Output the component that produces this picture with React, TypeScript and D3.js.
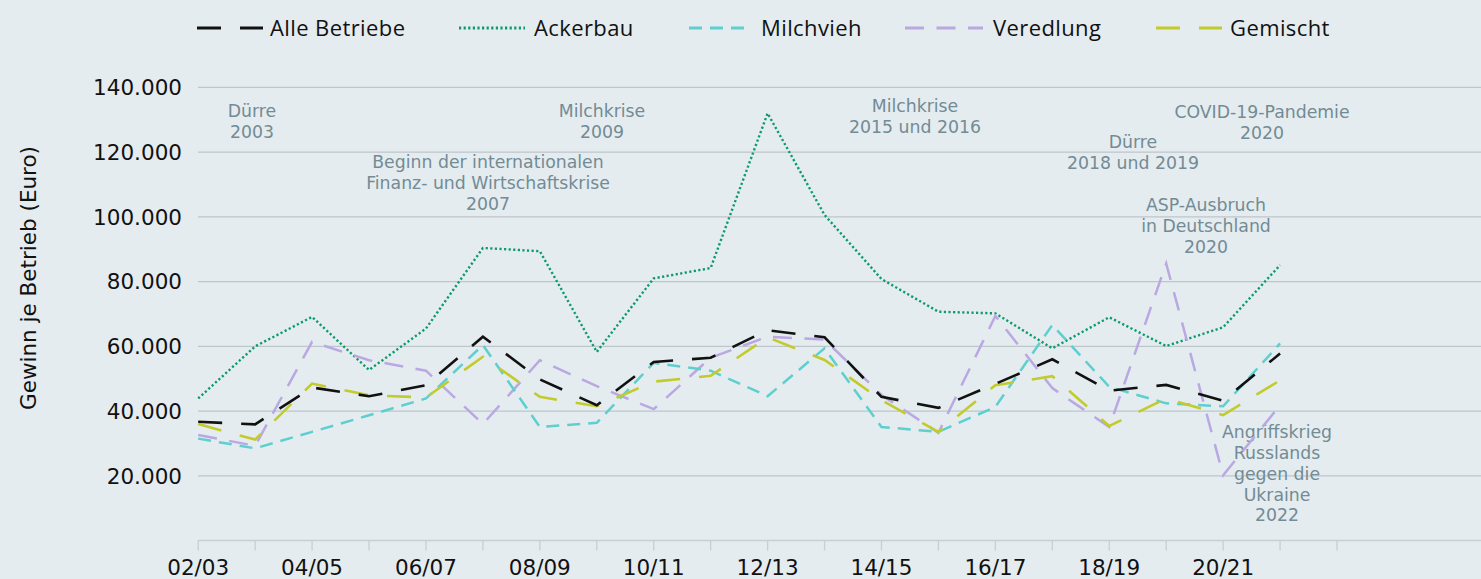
import React from "react";
import * as d3 from "d3";

// Wirtschaftsjahre (letztes Jahr ohne Daten, nur Achse)
const seasons = [
  "02/03", "03/04", "04/05", "05/06", "06/07", "07/08", "08/09", "09/10", "10/11", "11/12",
  "12/13", "13/14", "14/15", "15/16", "16/17", "17/18", "18/19", "19/20", "20/21", "21/22", "22/23",
];
const tickLabels = ["02/03", "04/05", "06/07", "08/09", "10/11", "12/13", "14/15", "16/17", "18/19", "20/21"];
const yTicks = [20000, 40000, 60000, 80000, 100000, 120000, 140000];

// Gewinn je Betrieb (Euro)
const alleBetriebe = [36700, 35900, 47300, 44600, 48000, 63000, 49800, 41800, 55200, 56500, 65000, 62800, 44400, 41000, 48400, 56000, 46300, 48100, 43200, 57800];
const ackerbau = [43900, 60000, 69100, 52700, 65500, 90400, 89400, 58300, 81000, 84200, 132000, 100600, 80800, 70700, 70200, 59400, 69000, 60100, 65900, 85100];
const milchvieh = [31500, 28500, 33600, 38700, 43900, 60400, 35100, 36400, 54900, 52500, 44600, 59400, 35100, 33600, 41300, 66600, 47500, 42400, 41500, 60900];
const veredlung = [32600, 29300, 61400, 55700, 52500, 36000, 55700, 47700, 40600, 56500, 63000, 62100, 45000, 33300, 69400, 47100, 35100, 85600, 20200, 41800];
const gemischt = [36000, 31200, 48500, 44900, 44200, 56800, 44400, 41500, 49100, 50900, 62800, 55800, 43400, 33600, 48000, 50800, 35400, 43900, 38800, 49500];

const annotations = [
  { lines: ["Dürre", "2003"], x: 252, y: 111 },
  { lines: ["Beginn der internationalen", "Finanz- und Wirtschaftskrise", "2007"], x: 488, y: 162 },
  { lines: ["Milchkrise", "2009"], x: 602, y: 111 },
  { lines: ["Milchkrise", "2015 und 2016"], x: 915, y: 106 },
  { lines: ["Dürre", "2018 und 2019"], x: 1133, y: 142 },
  { lines: ["COVID-19-Pandemie", "2020"], x: 1262, y: 112 },
  { lines: ["ASP-Ausbruch", "in Deutschland", "2020"], x: 1206, y: 205 },
  { lines: ["Angriffskrieg", "Russlands", "gegen die", "Ukraine", "2022"], x: 1277, y: 432 },
];

const W = 1481;
const H = 579;
const FONT = "'DejaVu Sans', sans-serif";
const NOTE = "#728b95";
const GRID = "#bcc6cb";

export default function App() {
  const x = d3.scalePoint<string>().domain(seasons).range([198.2, 1337]);
  const y = d3.scaleLinear().domain([0, 140000]).range([540.6, 87.4]);

  const series = [
    { name: "Ackerbau", values: ackerbau, color: "#0c9a6c", dash: "2.2 2.4", width: 2.4, lw: 66 },
    { name: "Veredlung", values: veredlung, color: "#b9a8e2", dash: "19 12.5", width: 2.5, lw: 78 },
    { name: "Milchvieh", values: milchvieh, color: "#5ecfcf", dash: "13 8", width: 2.5, lw: 57 },
    { name: "Gemischt", values: gemischt, color: "#c2cb2b", dash: "24 19", width: 2.6, lw: 66 },
    { name: "Alle Betriebe", values: alleBetriebe, color: "#111111", dash: "24 19", width: 2.6, lw: 66 },
  ];

  const line = d3
    .line<number>()
    .x((_, i) => x(seasons[i]) as number)
    .y((d) => y(d));

  // Legende: Reihenfolge wie im Original
  const legend = [
    { s: series[4], x0: 197, tx: 270 },
    { s: series[0], x0: 459, tx: 534 },
    { s: series[2], x0: 689, tx: 761 },
    { s: series[1], x0: 905, tx: 993 },
    { s: series[3], x0: 1156, tx: 1230 },
  ];

  return (
    <svg
      width={W}
      height={H}
      style={{ position: "absolute", left: 0, top: 0, background: "#e5ecef" }}
    >
      <rect width={W} height={H} fill="#e5ecef" />

      {/* legend */}
      {legend.map((l) => (
        <g key={l.s.name}>
          <line
            x1={l.x0}
            x2={l.x0 + l.s.lw}
            y1={28}
            y2={28}
            stroke={l.s.color}
            strokeWidth={l.s.width + 0.4}
            strokeDasharray={l.s.dash}
          />
          <text
            x={l.tx}
            y={28}
            dy="0.36em"
            fontFamily="'Open Sans', sans-serif"
            fontSize={22}
            letterSpacing={0.4}
            fill="#111"
          >
            {l.s.name}
          </text>
        </g>
      ))}

      {/* grid */}
      {yTicks.map((t) => (
        <g key={t}>
          <line x1={198} x2={W} y1={y(t)} y2={y(t)} stroke={GRID} strokeWidth={1.3} />
          <text
            x={182}
            y={y(t)}
            dy="0.36em"
            textAnchor="end"
            fontFamily={FONT}
            fontSize={21.5}
            fill="#111"
          >
            {d3.format(",")(t).replace(/,/g, ".")}
          </text>
        </g>
      ))}

      {/* x axis */}
      <line x1={198} x2={W} y1={y(0)} y2={y(0)} stroke="#c6cfd3" strokeWidth={1.5} />
      {seasons.map((s) => (
        <line key={s} x1={x(s)} x2={x(s)} y1={y(0)} y2={y(0) + 10} stroke="#c6cfd3" strokeWidth={1.3} />
      ))}
      {tickLabels.map((s) => (
        <text key={s} x={x(s)} y={575} textAnchor="middle" fontFamily={FONT} fontSize={21.5} fill="#111">
          {s}
        </text>
      ))}

      {/* y title */}
      <text
        transform="translate(36,278) rotate(-90)"
        textAnchor="middle"
        fontFamily={FONT}
        fontSize={21.5}
        fill="#111"
      >
        Gewinn je Betrieb (Euro)
      </text>

      {/* annotations */}
      {annotations.map((a, k) => (
        <text key={k} textAnchor="middle" fontFamily={FONT} fontSize={17.3} fill={NOTE}>
          {a.lines.map((t, j) => (
            <tspan key={j} x={a.x} y={a.y + j * 20.8} dy="0.36em">
              {t}
            </tspan>
          ))}
        </text>
      ))}

      {/* lines */}
      {series.map((s) => (
        <path
          key={s.name}
          d={line(s.values) || ""}
          fill="none"
          stroke={s.color}
          strokeWidth={s.width}
          strokeDasharray={s.dash}
          strokeLinejoin="miter"
        />
      ))}
    </svg>
  );
}
